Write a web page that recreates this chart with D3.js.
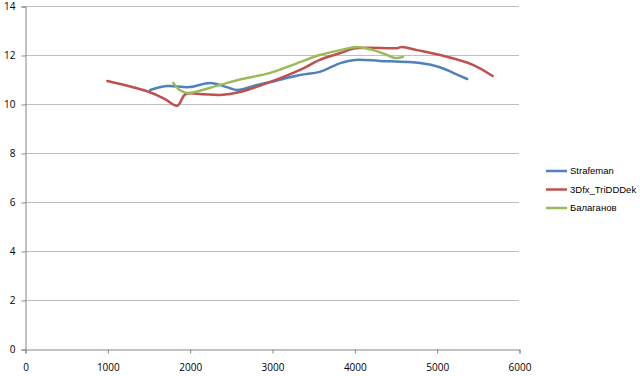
<!DOCTYPE html>
<html><head><meta charset="utf-8">
<script src="https://cdn.jsdelivr.net/npm/d3@7"></script>
<style>body{margin:0;background:#fff}svg{display:block}text{font-family:"Open Sans",sans-serif;font-size:10px;fill:#000}</style>
</head><body><svg id="c" width="640" height="376"></svg>
<script>
const seriesNames = ["Strafeman", "3Dfx_TriDDDek", "Балаганов"];
const seriesColors = ["#4F81BD", "#C0504D", "#9BBB59"];
const strafemanX = [1520, 1720, 2000, 2250, 2450, 2580, 2820, 2980, 3340, 3580, 3830, 4010, 4310, 4800, 5040, 5200, 5370];
const strafemanY = [10.57, 10.73, 10.69, 10.86, 10.69, 10.57, 10.78, 10.9, 11.18, 11.31, 11.67, 11.8, 11.76, 11.67, 11.5, 11.27, 11.02];
const tridddekX = [1000, 1500, 1700, 1850, 1950, 2150, 2370, 2610, 2980, 3340, 3580, 3830, 4010, 4520, 4580, 4760, 5040, 5440, 5680];
const tridddekY = [10.94, 10.5, 10.2, 9.93, 10.4, 10.4, 10.37, 10.49, 10.9, 11.39, 11.8, 12.08, 12.27, 12.28, 12.33, 12.2, 12.0, 11.6, 11.14];
const balaganovX = [1800, 1880, 1970, 2370, 2610, 2980, 3340, 3580, 3830, 4030, 4230, 4370, 4490, 4590];
const balaganovY = [10.86, 10.57, 10.45, 10.78, 11.0, 11.27, 11.71, 12.0, 12.2, 12.33, 12.2, 12.04, 11.88, 11.92];
const xTicks = [0, 1000, 2000, 3000, 4000, 5000, 6000];
const yTicks = [0, 2, 4, 6, 8, 10, 12, 14];

const svg = d3.select("#c");
const x = d3.scaleLinear().domain([0, 6000]).range([25, 519]);
const y = d3.scaleLinear().domain([0, 14]).range([349, 6]);

svg.append("g").selectAll("line").data(yTicks.filter(d => d > 0)).join("line")
  .attr("x1", x(0)).attr("x2", x(6000)).attr("y1", d => y(d) + 0.5).attr("y2", d => y(d) + 0.5)
  .attr("stroke", "#BFBFBF").attr("stroke-width", 1);

const yAxis = svg.append("g").attr("transform", `translate(${x(0) + 0.5},0.5)`)
  .call(d3.axisLeft(y).tickValues(yTicks).tickSize(4).tickPadding(6).tickFormat(d3.format("d")));
const xAxis = svg.append("g").attr("transform", `translate(0.5,${y(0) + 0.5})`)
  .call(d3.axisBottom(x).tickValues(xTicks).tickSize(4).tickPadding(10).tickFormat(d3.format("d")));
[xAxis, yAxis].forEach(a => {
  a.select(".domain").attr("stroke", "#868686");
  a.selectAll(".tick line").attr("stroke", "#868686");
  a.selectAll("text").style("font-family", "'Open Sans',sans-serif").style("font-size", "10px").attr("fill", "#000");
});

const data = [
  strafemanX.map((v, i) => [v, strafemanY[i]]),
  tridddekX.map((v, i) => [v, tridddekY[i]]),
  balaganovX.map((v, i) => [v, balaganovY[i]])
];
const line = d3.line().x(d => x(d[0])).y(d => y(d[1])).curve(d3.curveCatmullRom.alpha(0.5));
[0, 1, 2].forEach(i => {
  svg.append("path").attr("d", line(data[i])).attr("fill", "none")
    .attr("stroke", seriesColors[i]).attr("stroke-width", 2.5).attr("stroke-linecap", "round").attr("stroke-linejoin", "round");
});

const leg = svg.append("g").selectAll("g").data(seriesNames).join("g")
  .attr("transform", (d, i) => `translate(546,${171 + i * 18.5})`);
leg.append("line").attr("x1", 0).attr("x2", 21).attr("y1", 0).attr("y2", 0)
  .attr("stroke", (d, i) => seriesColors[i]).attr("stroke-width", 2.5);
leg.append("text").attr("x", 24).attr("y", 0).attr("dy", "0.35em")
  .style("font-family", "'Liberation Sans',Arial,sans-serif").style("font-size", "9.5px").text(d => d);
</script></body></html>
